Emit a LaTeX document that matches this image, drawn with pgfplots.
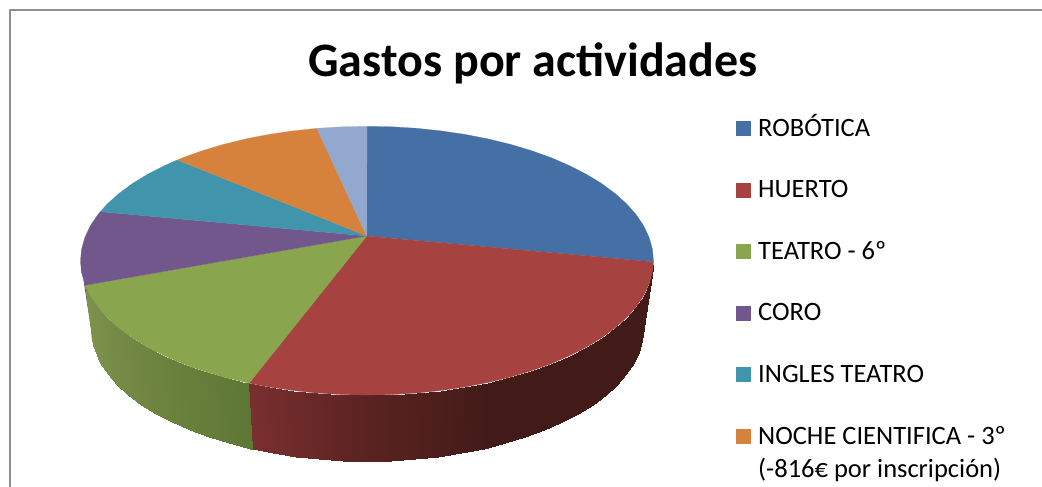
\documentclass[border=0pt]{standalone}
\usepackage{fontspec}
\setmainfont{Carlito}
\usepackage{pgfplots}
\pgfplotsset{compat=1.18}
\definecolor{cblue}{HTML}{4470A5}
\definecolor{cred}{HTML}{A64340}
\definecolor{cgreen}{HTML}{89A54E}
\definecolor{cpurple}{HTML}{72578C}
\definecolor{cteal}{HTML}{4095AD}
\definecolor{corange}{HTML}{D6823C}
\definecolor{clblue}{HTML}{93A8CE}
\definecolor{frame}{HTML}{8E8E8E}
\begin{document}
\begin{tikzpicture}
\begin{axis}[
  at={(0pt,0pt)}, anchor=south west,
  scale only axis, width=1042pt, height=487pt,
  xmin=0, xmax=1042, ymin=-1, ymax=486, y dir=reverse,
  axis lines=none, clip=true,
  point meta min=0, point meta max=201,
  colormap={side}{rgb255(0pt)=(127,147,78) rgb255(100pt)=(95,119,53) rgb255(101pt)=(122,47,47) rgb255(150pt)=(90,35,33) rgb255(201pt)=(66,27,24)},
  every axis plot/.append style={line join=round},
]
% frame
\addplot[draw=frame, line width=2pt] coordinates {(9.5,487) (9.5,9.5) (1042,9.5)};
% purple sliver of the side
\addplot[fill=cpurple!85!black, draw=none] coordinates {(80.5,259.7) (81.6,271.4) (84.9,283.0) (85.3,284.2) (93.5,344) (92.0,339.5) (91,328)} -- cycle;
% green side
\addplot[patch, patch type=rectangle, shader=interp, table/row sep=\\,
  patch table={0 1 3 2\\ 2 3 5 4\\ 4 5 7 6\\ 6 7 9 8\\ 8 9 11 10\\ 10 11 13 12\\ 12 13 15 14\\ 14 15 17 16\\ 16 17 19 18\\ 18 19 21 20\\ 20 21 23 22\\ 22 23 25 24\\}]
 table[point meta=\thisrow{m}] {
 x y m\\
 85.3 284.2 0\\ 93.5 344 0\\
 90.3 294.5 8\\ 100.4 362.2 8\\
 97.8 305.7 17\\ 107.6 373.1 17\\
 107.3 316.5 26\\ 116.9 383.8 26\\
 118.9 326.9 35\\ 128.0 394.0 35\\
 132.3 336.8 44\\ 140.9 403.7 44\\
 147.5 346.1 53\\ 155.6 412.8 53\\
 164.4 354.7 62\\ 171.8 421.3 62\\
 182.8 362.7 71\\ 189.6 429.1 71\\
 202.7 369.8 80\\ 208.7 436.1 80\\
 223.7 376.1 90\\ 229.0 442.3 90\\
 245.9 381.5 99\\ 250.4 447.6 99\\
 249.1 382.2 100\\ 253.4 448.3 100\\
};
% red side
\addplot[patch, patch type=rectangle, shader=interp, table/row sep=\\,
  patch table={0 1 3 2\\ 2 3 5 4\\ 4 5 7 6\\ 6 7 9 8\\ 8 9 11 10\\ 10 11 13 12\\ 12 13 15 14\\ 14 15 17 16\\ 16 17 19 18\\ 18 19 21 20\\ 20 21 23 22\\ 22 23 25 24\\ 24 25 27 26\\ 26 27 29 28\\ 28 29 31 30\\ 30 31 33 32\\ 32 33 35 34\\ 34 35 37 36\\ 36 37 39 38\\ 38 39 41 40\\ 40 41 43 42\\ 42 43 45 44\\ 44 45 47 46\\}]
 table[point meta=\thisrow{m}] {
 x y m\\
 249.1 382.2 101\\ 253.4 448.3 101\\
 269.0 386.0 110\\ 272.6 452.0 110\\
 292.8 389.5 120\\ 295.6 455.5 120\\
 317.3 392.1 130\\ 319.1 458.0 130\\
 342.0 393.6 140\\ 342.9 459.5 140\\
 367.0 394.1 150\\ 367.0 460.0 150\\
 392.0 393.6 160\\ 391.1 459.5 160\\
 416.7 392.1 170\\ 414.9 458.0 170\\
 441.2 389.5 180\\ 438.4 455.5 180\\
 465.0 386.0 190\\ 461.4 452.0 190\\
 488.1 381.5 201\\ 483.6 447.6 201\\
 510.3 376.1 201\\ 505.0 442.3 201\\
 531.3 369.8 201\\ 525.3 436.1 201\\
 551.2 362.7 201\\ 544.4 429.1 201\\
 569.6 354.7 201\\ 562.2 421.3 201\\
 586.5 346.1 201\\ 578.4 412.8 201\\
 601.7 336.8 201\\ 593.1 403.7 201\\
 615.1 326.9 201\\ 606.0 394.0 201\\
 626.7 316.5 201\\ 617.1 383.8 201\\
 636.2 305.7 201\\ 626.4 373.1 201\\
 643.7 294.5 201\\ 633.6 362.2 201\\
 649.1 283.0 201\\ 638.8 350.9 201\\
 652.4 271.4 201\\ 642.0 339.5 201\\
 653.5 260.9 201\\ 643.0 328.0 201\\
};
% top face: blue
\addplot[fill=cblue, draw=cblue, line width=0.2pt] coordinates {(366.7,235) (367,125.3) (392.0,125.8) (416.7,127.3) (441.2,129.9) (465.0,133.4) (488.1,137.9) (510.3,143.3) (531.3,149.6) (551.2,156.7) (569.6,164.7) (586.5,173.3) (601.7,182.6) (615.1,192.5) (626.7,202.9) (636.2,213.7) (643.7,224.9) (649.1,236.4) (652.4,248.0) (653.5,259.7) (653.5,260.9)} -- cycle;
% top face: red
\addplot[fill=cred, draw=cred, line width=0.2pt] coordinates {(366.7,235) (653.5,260.9) (652.4,271.4) (649.1,283.0) (643.7,294.5) (636.2,305.7) (626.7,316.5) (615.1,326.9) (601.7,336.8) (586.5,346.1) (569.6,354.7) (551.2,362.7) (531.3,369.8) (510.3,376.1) (488.1,381.5) (465.0,386.0) (441.2,389.5) (416.7,392.1) (392.0,393.6) (367,394.1) (342.0,393.6) (317.3,392.1) (292.8,389.5) (269.0,386.0) (249.1,382.2)} -- cycle;
% top face: green
\addplot[fill=cgreen, draw=cgreen, line width=0.2pt] coordinates {(366.7,235) (249.1,382.2) (245.9,381.5) (223.7,376.1) (202.7,369.8) (182.8,362.7) (164.4,354.7) (147.5,346.1) (132.3,336.8) (118.9,326.9) (107.3,316.5) (97.8,305.7) (90.3,294.5) (85.3,284.2)} -- cycle;
% top face: purple
\addplot[fill=cpurple, draw=cpurple, line width=0.2pt] coordinates {(366.7,235) (85.3,284.2) (84.9,283.0) (81.6,271.4) (80.5,259.7) (81.6,248.0) (84.9,236.4) (90.3,224.9) (97.8,213.7) (100.3,210.7)} -- cycle;
% top face: teal
\addplot[fill=cteal, draw=cteal, line width=0.2pt] coordinates {(366.7,235) (100.3,210.7) (107.3,202.9) (118.9,192.5) (132.3,182.6) (147.5,173.3) (164.4,164.7) (177.2,159.0)} -- cycle;
% top face: orange
\addplot[fill=corange, draw=corange, line width=0.2pt] coordinates {(366.7,235) (177.2,159.0) (182.8,156.7) (202.7,149.6) (223.7,143.3) (245.9,137.9) (269.0,133.4) (292.8,129.9) (316.8,127.4)} -- cycle;
% top face: light blue
\addplot[fill=clblue, draw=clblue, line width=0.2pt] coordinates {(366.7,235) (316.8,127.4) (317.3,127.3) (342.0,125.8) (367,125.3)} -- cycle;
% legend swatches
\addplot[fill=cblue, draw=none] coordinates {(736,120) (751,120) (751,135) (736,135)} -- cycle;
\addplot[fill=cred, draw=none] coordinates {(736,182) (751,182) (751,197) (736,197)} -- cycle;
\addplot[fill=cgreen, draw=none] coordinates {(736,243) (751,243) (751,258) (736,258)} -- cycle;
\addplot[fill=cpurple, draw=none] coordinates {(736,305) (751,305) (751,320) (736,320)} -- cycle;
\addplot[fill=cteal, draw=none] coordinates {(736,366) (751,366) (751,381) (736,381)} -- cycle;
\addplot[fill=corange, draw=none] coordinates {(736,428) (751,428) (751,443) (736,443)} -- cycle;
% text
\node[anchor=base, inner sep=0pt, font=\fontsize{48}{48}\selectfont\bfseries] at (axis cs:533,75.5) {Gastos por actividades};
\foreach \yy/\tt in {135/ROBÓTICA,196.7/HUERTO,258/TEATRO - 6º,319.5/CORO,381.7/INGLES TEATRO,443/NOCHE CIENTIFICA - 3º,476.7/(-816€ por inscripción)}{
  \edef\temp{\noexpand\node[anchor=base west, inner sep=0pt, font=\noexpand\fontsize{26.5}{26.5}\noexpand\selectfont] at (axis cs:758,\yy) {\unexpanded\expandafter{\tt}};}
  \temp
}
\end{axis}
\pgfresetboundingbox
\path[use as bounding box] (0pt,0pt) rectangle (1042pt,487pt);
\end{tikzpicture}
\end{document}
